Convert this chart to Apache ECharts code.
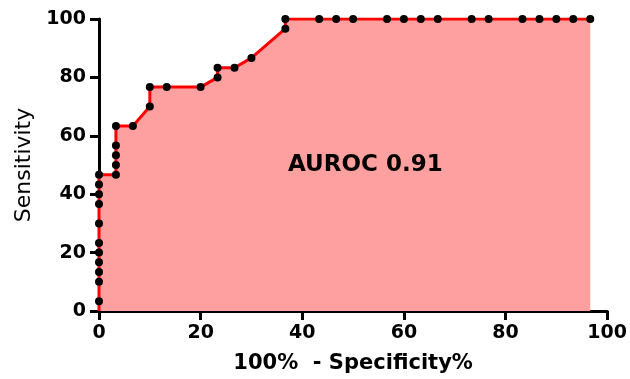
<!DOCTYPE html>
<html>
<head>
<meta charset="utf-8">
<script src="https://cdn.jsdelivr.net/npm/echarts@6/dist/echarts.min.js"></script>
<style>
  html, body { margin: 0; padding: 0; background: #fff; }
  #roc_chart { width: 630px; height: 379px; }
</style>
</head>
<body>
<div id="roc_chart"></div>
<script>
// 100% - Specificity% (x) and Sensitivity (y) of each ROC point
const fpr = [0, 0, 0, 0, 0, 0, 0, 0, 0, 0, 0, 0,
  3.33, 3.33, 3.33, 3.33, 3.33, 6.67, 10, 10, 13.33, 20, 23.33, 23.33, 26.67, 30, 36.67, 36.67,
  43.33, 46.67, 50, 56.67, 60, 63.33, 66.67, 73.33, 76.67, 83.33, 86.67, 90, 93.33, 96.67]
const sens = [0, 3.33, 10, 13.33, 16.67, 20, 23.33, 30, 36.67, 40, 43.33, 46.67,
  46.67, 50, 53.33, 56.67, 63.33, 63.33, 70, 76.67, 76.67, 76.67, 80, 83.33, 83.33, 86.67, 96.67, 100,
  100, 100, 100, 100, 100, 100, 100, 100, 100, 100, 100, 100, 100, 100]
const xTicks = [0, 20, 40, 60, 80, 100]
const yTicks = [0, 20, 40, 60, 80, 100]
const aucLabel = 'AUROC 0.91'

const chart = echarts.init(document.getElementById('roc_chart'))

// first point (0,0) is drawn without a dot
const points = fpr.map((x, i) => {
  if (i === 0) return { value: [x, sens[i]], symbol: 'none' }
  return [x, sens[i]]
})

const tickFont = {
  fontFamily: 'DejaVu Sans',
  fontWeight: 'bold',
  fontSize: 19,
  color: '#000'
}

const axisBase = {
  type: 'value',
  min: 0,
  max: 100,
  interval: 20,
  splitLine: { show: false },
  axisLine: { show: true, lineStyle: { color: '#000', width: 3 } },
  axisTick: { show: true, length: 9, lineStyle: { color: '#000', width: 3 } }
}

chart.setOption({
  animation: false,
  grid: { left: 99, right: 22, top: 19, bottom: 68 },
  xAxis: {
    ...axisBase,
    name: '100%  - Specificity%',
    nameLocation: 'middle',
    nameGap: 42,
    nameTextStyle: { fontFamily: 'DejaVu Sans', fontWeight: 'bold', fontSize: 21, color: '#000' },
    axisLabel: {
      ...tickFont,
      margin: 13,
      formatter: v => (xTicks.indexOf(v) > -1 ? String(v) : '')
    }
  },
  yAxis: {
    ...axisBase,
    name: 'Sensitivity',
    nameLocation: 'middle',
    nameGap: 62,
    nameTextStyle: { fontFamily: 'DejaVu Sans', fontSize: 22, color: '#000' },
    axisLabel: {
      ...tickFont,
      margin: 13,
      formatter: v => (yTicks.indexOf(v) > -1 ? String(v) : '')
    }
  },
  // AUC label sits on top of the filled area
  graphic: [
    {
      type: 'text',
      left: 288,
      top: 154,
      z: 100,
      style: {
        text: aucLabel,
        fontFamily: 'DejaVu Sans',
        fontWeight: 'bold',
        fontSize: 23,
        fill: '#000'
      }
    }
  ],
  series: [
    {
      type: 'line',
      data: points,
      symbol: 'circle',
      symbolSize: 8,
      itemStyle: { color: '#000' },
      lineStyle: { color: '#ff0000', width: 3 },
      areaStyle: { color: '#ffa0a0', opacity: 1 },
      z: 1
    }
  ]
})
</script>
</body>
</html>
